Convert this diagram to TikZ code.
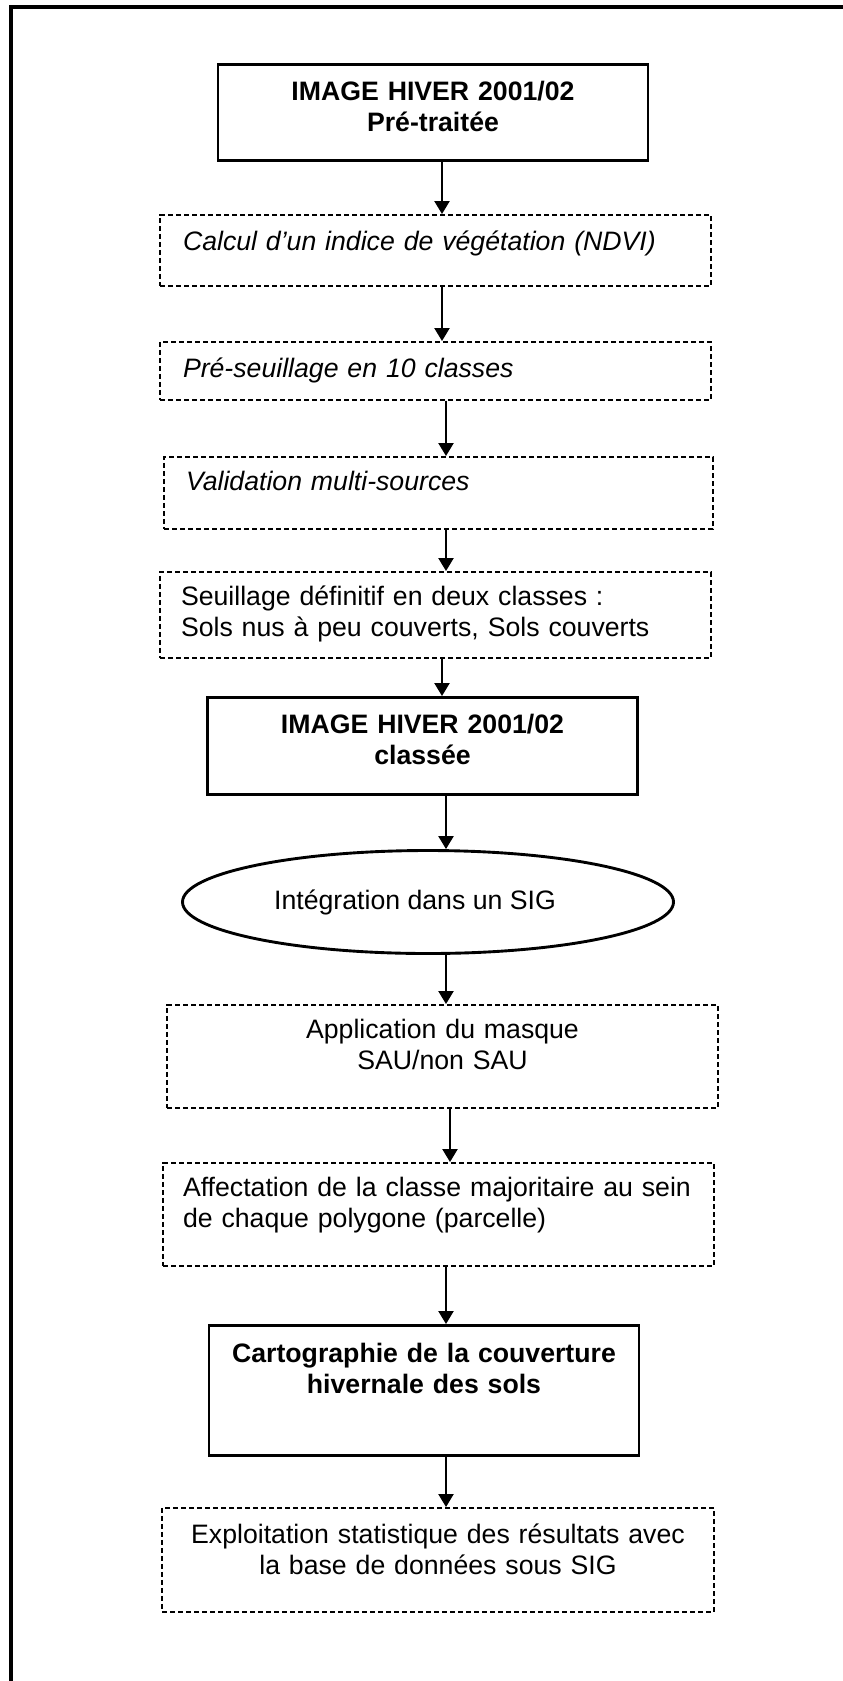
\documentclass[tikz,border=0pt]{standalone}
\usepackage{fontspec}
\setmainfont{Liberation Sans}
\usetikzlibrary{arrows.meta,shapes.geometric}

\newdimen\px \px=0.45pt
\tikzset{
  txt/.style={font=\fontsize{12pt}{14pt}\selectfont, inner ysep=0pt, anchor=north},
  solidbox/.style={txt, draw, line width=1.2pt, align=center,
    font=\fontsize{12pt}{14pt}\selectfont\bfseries, text width=400\px, inner xsep=15\px},
  dashbox/.style={txt, draw, line width=0.7pt, dash pattern=on 2.3pt off 1.3pt},
  leftbox/.style={dashbox, align=left, text width=505\px, inner xsep=23\px},
  midbox/.style={dashbox, align=center, text width=505\px, inner xsep=23\px},
  oval/.style={ellipse, draw, line width=1.3pt, inner sep=0pt,
    minimum width=491\px, minimum height=103\px, font=\fontsize{12pt}{14pt}\selectfont},
  arr/.style={-{Triangle[length=5.8pt,width=6.8pt]}, line width=0.7pt},
}

\begin{document}
\begin{tikzpicture}[x=0.45pt, y=-0.45pt]
  \useasboundingbox (0,0) rectangle (843,1681);

  % frame (only top and left sides show)
  \draw[line width=1.8pt, line join=miter] (860,7) -- (11,7) -- (11,1700);

  % images
  \node[solidbox, text height=36\px, text depth=60\px] (img1) at (433,63)
    {IMAGE HIVER 2001/02\\Pré-traitée};
  \node[solidbox, text height=36\px, text depth=61\px] (img2) at (422.5,696)
    {IMAGE HIVER 2001/02\\classée};

  % processing steps
  \node[leftbox, text height=36\px, text depth=35\px] (ndvi) at (435.5,214)
    {\itshape Calcul d’un indice de végétation (NDVI)};
  \node[leftbox, text height=36\px, text depth=22\px] (preseuil) at (435.5,341)
    {\itshape Pré-seuillage en 10 classes};
  \node[leftbox, text height=34\px, text depth=38\px, inner xsep=22\px] (valid) at (438.5,456)
    {\itshape Validation multi-sources};
  \node[leftbox, text height=34\px, text depth=52\px, inner xsep=21\px, text width=509\px] (seuil) at (435.5,571)
    {Seuillage définitif en deux classes :\\Sols nus à peu couverts, Sols couverts};

  % GIS part
  \node[oval] (sig) at (428,902) {Intégration dans un SIG\hspace*{26\px}};
  \node[midbox, text height=34\px, text depth=69\px] (masque) at (442.5,1004)
    {Application du masque\\SAU/non SAU};
  \node[leftbox, text height=34\px, text depth=69\px, inner xsep=20\px, text width=511\px] (affect) at (438.5,1162)
    {Affectation de la classe majoritaire au sein\\de chaque polygone (parcelle)};
  \node[solidbox, text height=37\px, text depth=93\px] (carto) at (424,1324)
    {Cartographie de la couverture\\hivernale des sols};
  \node[midbox, text height=36\px, text depth=68\px, text width=506\px] (stats) at (438,1507)
    {Exploitation statistique des résultats avec\\la base de données sous SIG};

  % arrows
  \draw[arr] (img1.south -| 442,0) -- (ndvi.north -| 442,0);
  \draw[arr] (ndvi.south -| 442,0) -- (preseuil.north -| 442,0);
  \draw[arr] (preseuil.south -| 446,0) -- (valid.north -| 446,0);
  \draw[arr] (valid.south -| 446,0) -- (seuil.north -| 446,0);
  \draw[arr] (seuil.south -| 442,0) -- (img2.north -| 442,0);
  \draw[arr] (img2.south -| 446,0) -- (sig.north -| 446,0);
  \draw[arr] (sig.south -| 446,0) -- (masque.north -| 446,0);
  \draw[arr] (masque.south -| 450,0) -- (affect.north -| 450,0);
  \draw[arr] (affect.south -| 446,0) -- (carto.north -| 446,0);
  \draw[arr] (carto.south -| 446,0) -- (stats.north -| 446,0);

\end{tikzpicture}
\end{document}
